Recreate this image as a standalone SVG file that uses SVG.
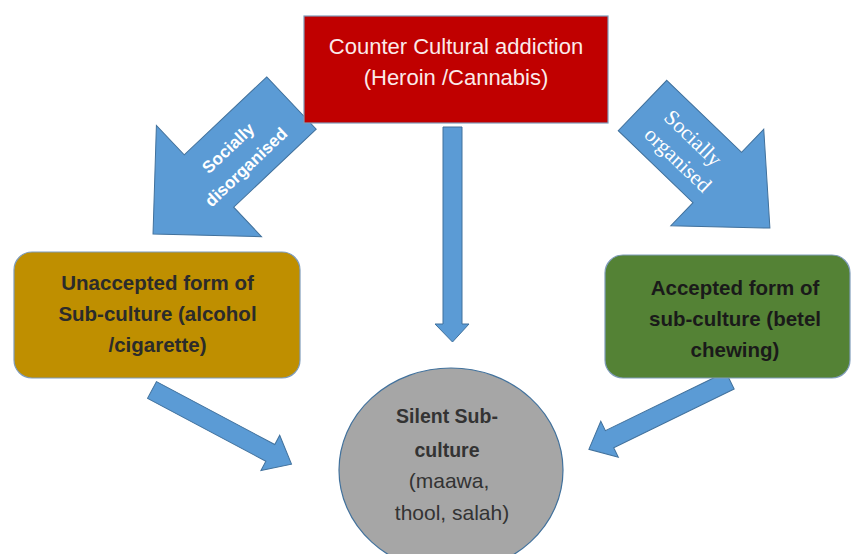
<svg xmlns="http://www.w3.org/2000/svg" width="851" height="554" viewBox="0 0 851 554">
<style>
.arrow{fill:#5b9bd5;stroke:#41719c;stroke-width:1;stroke-linejoin:miter}
.box{stroke:#7f9cba;stroke-width:1.2}
.sans{font-family:"Liberation Sans",Arial,sans-serif;text-anchor:middle}
.serif{font-family:"Liberation Serif","Times New Roman",serif;text-anchor:middle}
.dark{fill:#2b2b2b;font-weight:bold;font-size:20.5px}
</style>
<rect width="851" height="554" fill="#ffffff"/>
<g id="connectors">
  <g id="arrow-disorganised">
    <polygon class="arrow" transform="translate(291.5,103) rotate(136.6)" points="0,-36 113.6,-36 113.6,-76.5 190.6,0 113.6,76.5 113.6,36 0,36"/>
    <g transform="translate(237,157.5) rotate(-43.4)" class="sans" fill="#ffffff" font-weight="bold" font-size="17">
      <text x="0" y="-7">Socially</text>
      <text x="0" y="19">disorganised</text>
    </g>
  </g>
  <g id="arrow-organised">
    <polygon class="arrow" transform="translate(642.5,105.5) rotate(43.9)" points="0,-35 103.8,-35 103.8,-67 176.8,0 103.8,67 103.8,35 0,35"/>
    <g transform="translate(685.5,149) rotate(43.9)" class="serif" fill="#ffffff" font-size="21.5">
      <text x="-2" y="-6">Socially</text>
      <text x="2" y="20">organised</text>
    </g>
  </g>
  <polygon id="arrow-down" class="arrow" points="443,127 462,127 462,324 469,324 452.5,342 435,324 443,324"/>
  <polygon id="arrow-left-bottom" class="arrow" transform="translate(152,390) rotate(28)" points="0,-9.5 134,-9.5 134,-20 158,0 134,20 134,9.5 0,9.5"/>
  <polygon id="arrow-right-bottom" class="arrow" transform="translate(730,380.5) rotate(154)" points="0,-9.5 134,-9.5 134,-20 157,0 134,20 134,9.5 0,9.5"/>
</g>
<g id="node-counter">
  <rect class="box" x="304" y="16" width="304" height="107" fill="#c00000"/>
  <text class="sans" fill="#fbeaea" font-size="22" x="456" y="54">Counter Cultural addiction</text>
  <text class="sans" fill="#fbeaea" font-size="22" x="456" y="85">(Heroin /Cannabis)</text>
</g>
<g id="node-unaccepted">
  <rect class="box" x="14" y="252" width="286" height="126" rx="18" fill="#bf8f00"/>
  <text class="sans dark" x="157.5" y="290">Unaccepted form of</text>
  <text class="sans dark" x="157.5" y="321">Sub-culture (alcohol</text>
  <text class="sans dark" x="157.5" y="352">/cigarette)</text>
</g>
<g id="node-accepted">
  <rect class="box" x="605" y="255" width="245" height="123" rx="18" fill="#548235"/>
  <text class="sans dark" x="735" y="295" style="fill:#1a1a1a">Accepted form of</text>
  <text class="sans dark" x="735" y="326" style="fill:#1a1a1a">sub-culture (betel</text>
  <text class="sans dark" x="735" y="357" style="fill:#1a1a1a">chewing)</text>
</g>
<g id="node-silent">
  <ellipse cx="451" cy="470" rx="112" ry="102" fill="#a6a6a6" stroke="#41719c" stroke-width="1.2"/>
  <text class="sans" fill="#333333" font-weight="bold" font-size="19.5" x="447" y="423">Silent Sub-</text>
  <text class="sans" fill="#333333" font-weight="bold" font-size="19.5" x="447" y="457">culture</text>
  <text class="sans" fill="#333333" font-size="21" x="449" y="488">(maawa,</text>
  <text class="sans" fill="#333333" font-size="21" x="452" y="520">thool, salah)</text>
</g>
</svg>
